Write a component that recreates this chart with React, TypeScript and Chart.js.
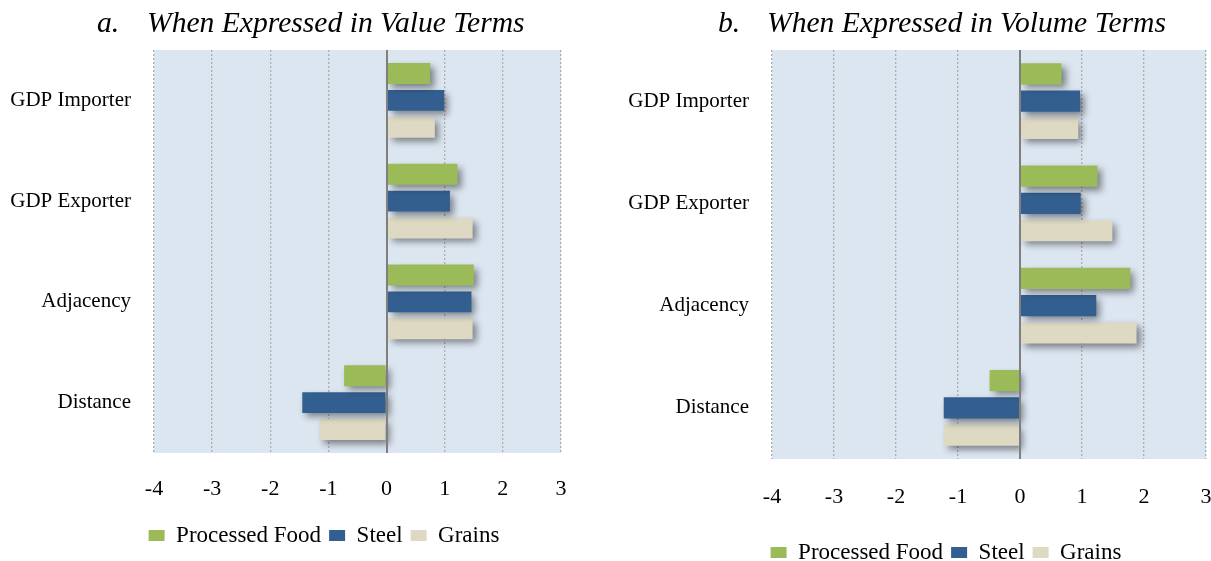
import React, { useEffect, useRef } from 'react';
import { Chart, registerables } from 'chart.js';

Chart.register(...registerables);

// ---- data ----
const categories = ['GDP Importer', 'GDP Exporter', 'Adjacency', 'Distance'];
const seriesNames = ['Processed Food', 'Steel', 'Grains'];
const valueProcessedFood = [0.75, 1.22, 1.5, -0.73];
const valueSteel = [0.99, 1.09, 1.46, -1.45];
const valueGrains = [0.83, 1.48, 1.48, -1.15];
const volumeProcessedFood = [0.67, 1.25, 1.78, -0.49];
const volumeSteel = [0.97, 0.98, 1.23, -1.23];
const volumeGrains = [0.94, 1.49, 1.88, -1.23];
const xTickValues = [-4, -3, -2, -1, 0, 1, 2, 3];
const panelLetters = ['a.', 'b.'];
const panelTitles = ['When Expressed in Value Terms', 'When Expressed in Volume Terms'];

const seriesColors = ['#9BBB59', '#335F90', '#DDD9C3'];
const FONT = "'Liberation Serif', 'Times New Roman', serif";

const bgPlugin = {
  id: 'plotBg',
  beforeDraw(chart: any) {
    const { ctx, chartArea } = chart;
    ctx.save();
    ctx.fillStyle = '#DCE6F1';
    ctx.fillRect(chartArea.left, chartArea.top, chartArea.right - chartArea.left, chartArea.bottom - chartArea.top);
    ctx.restore();
  },
};

const shadowPlugin = {
  id: 'barShadow',
  beforeDatasetsDraw(chart: any) {
    const ctx = chart.ctx;
    ctx.save();
    ctx.shadowColor = 'rgba(0,0,0,0.45)';
    ctx.shadowBlur = 7;
    ctx.shadowOffsetX = 4;
    ctx.shadowOffsetY = 4;
  },
  afterDatasetsDraw(chart: any) {
    const ctx = chart.ctx;
    ctx.restore();
    const xs = chart.scales.x;
    const x = Math.round(xs.getPixelForValue(0));
    ctx.save();
    ctx.strokeStyle = '#7F7F7F';
    ctx.lineWidth = 2;
    ctx.beginPath();
    ctx.moveTo(x, chart.chartArea.top);
    ctx.lineTo(x, chart.chartArea.bottom);
    ctx.stroke();
    ctx.restore();
  },
};

type PanelProps = {
  series: number[][];
  left: number;
  width: number;
  height: number;
  padLeft: number;
  yAxisWidth: number;
  rightGap: number;
  tickPad: number;
  xAxisHeight: number;
};

function Panel(p: PanelProps) {
  const ref = useRef<HTMLCanvasElement>(null);
  useEffect(() => {
    const chart = new Chart(ref.current as HTMLCanvasElement, {
      type: 'bar',
      data: {
        labels: categories,
        datasets: seriesNames.map((name, i) => ({
          label: name,
          data: p.series[i],
          backgroundColor: seriesColors[i],
          borderWidth: 0,
          categoryPercentage: 0.8,
          barPercentage: 0.78,
        })),
      },
      options: {
        indexAxis: 'y',
        animation: false,
        responsive: false,
        maintainAspectRatio: false,
        layout: { padding: { left: p.padLeft, top: 50, right: 0, bottom: 0 } },
        scales: {
          x: {
            type: 'linear',
            min: -4,
            max: 3,
            afterBuildTicks: (s: any) => {
              s.ticks = xTickValues.map((v) => ({ value: v }));
            },
            afterFit: (s: any) => {
              s.height = p.xAxisHeight;
            },
            ticks: {
              color: '#000',
              font: { family: FONT, size: 22 },
              padding: p.tickPad,
            },
            grid: {
              drawTicks: false,
              color: (c: any) => (c.tick && c.tick.value === 0 ? '#7F7F7F' : '#ADADAD'),
              lineWidth: (c: any) => (c.tick && c.tick.value === 0 ? 2 : 1.3),
            },
            border: {
              display: false,
              dash: (c: any) => (c.tick && c.tick.value === 0 ? [] : [2, 2]),
            },
          },
          y: {
            type: 'category',
            grid: { display: false, drawTicks: false },
            border: { display: false },
            ticks: { color: '#000', font: { family: FONT, size: 21 }, padding: 23 },
            afterFit: (s: any) => {
              s.width = p.yAxisWidth;
            },
          },
          y2: {
            type: 'linear',
            position: 'right',
            display: true,
            grid: { display: false, drawTicks: false },
            border: { display: false },
            ticks: { display: false },
            afterFit: (s: any) => {
              s.width = p.rightGap;
            },
          },
        },
        plugins: {
          legend: {
            position: 'bottom',
            labels: {
              color: '#000',
              font: { family: FONT, size: 23 },
              boxWidth: 16,
              boxHeight: 11,
              padding: 8,
            },
          },
          tooltip: { enabled: false },
          title: { display: false },
        },
      },
      plugins: [bgPlugin, shadowPlugin],
    } as any);
    return () => chart.destroy();
  }, []);
  return (
    <canvas
      ref={ref}
      width={p.width}
      height={p.height}
      style={{ position: 'absolute', left: p.left, top: 0, width: p.width, height: p.height }}
    />
  );
}

const titleStyle: React.CSSProperties = {
  position: 'absolute',
  top: 8,
  fontFamily: FONT,
  fontStyle: 'italic',
  fontSize: 29.6,
  lineHeight: '29px',
  color: '#000',
  whiteSpace: 'nowrap',
};

export default function App() {
  return (
    <div
      style={{
        position: 'fixed',
        left: 0,
        top: 0,
        width: 1211,
        height: 561,
        overflow: 'hidden',
        background: '#fff',
      }}
    >
      <Panel
        series={[valueProcessedFood, valueSteel, valueGrains]}
        left={0}
        width={646}
        height={557}
        padLeft={2}
        yAxisWidth={152}
        rightGap={85}
        tickPad={23}
        xAxisHeight={63}
      />
      <Panel
        series={[volumeProcessedFood, volumeSteel, volumeGrains]}
        left={617}
        width={656}
        height={574}
        padLeft={2}
        yAxisWidth={153}
        rightGap={67}
        tickPad={25}
        xAxisHeight={74}
      />
      <span style={{ ...titleStyle, left: 97 }}>{panelLetters[0]}</span>
      <span style={{ ...titleStyle, left: 147 }}>{panelTitles[0]}</span>
      <span style={{ ...titleStyle, left: 718 }}>{panelLetters[1]}</span>
      <span style={{ ...titleStyle, left: 767 }}>{panelTitles[1]}</span>
    </div>
  );
}
